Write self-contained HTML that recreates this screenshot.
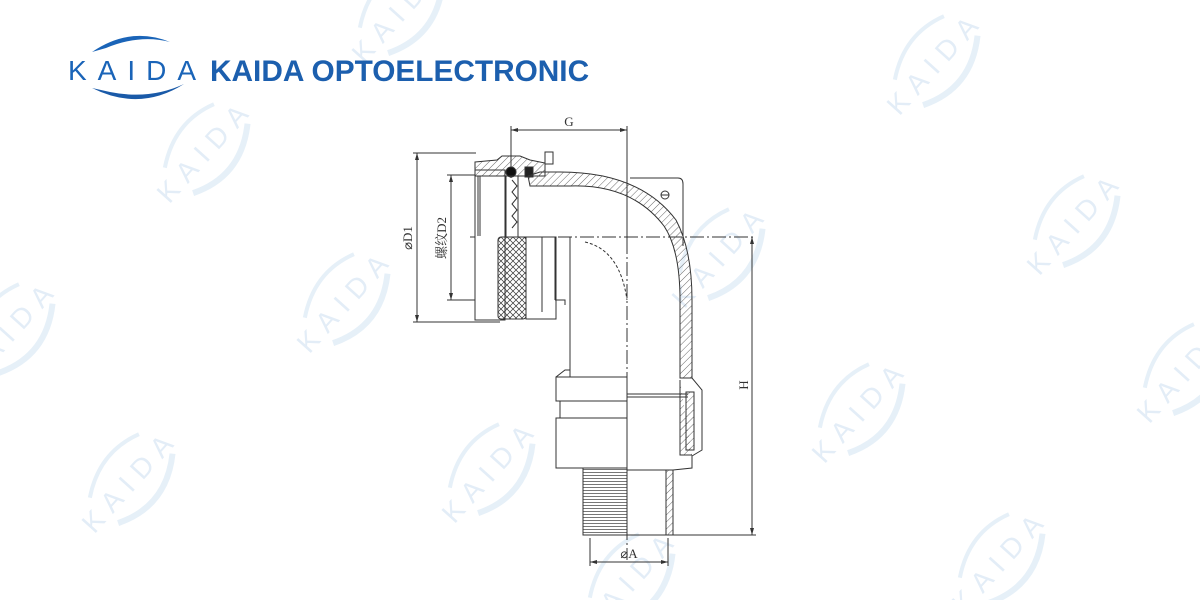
<!DOCTYPE html>
<html><head><meta charset="utf-8"><style>
html,body{margin:0;padding:0;background:#fff;width:1200px;height:600px;overflow:hidden;}
body{position:relative;font-family:"Liberation Sans",sans-serif;}
svg{position:absolute;left:0;top:0;display:block}
</style></head><body>
<svg width="1200" height="600" viewBox="0 0 1200 600" xmlns="http://www.w3.org/2000/svg" overflow="hidden">
<defs>
<pattern id="hatch" patternUnits="userSpaceOnUse" width="5" height="5" patternTransform="rotate(45)">
<line x1="0" y1="0" x2="0" y2="5" stroke="#444" stroke-width="0.8"/></pattern>
<pattern id="knurl" patternUnits="userSpaceOnUse" width="6" height="6">
<path d="M0 0L6 6M6 0L0 6" stroke="#333" stroke-width="0.7"/></pattern>
<pattern id="thread" patternUnits="userSpaceOnUse" width="4" height="3">
<line x1="0" y1="1.5" x2="4" y2="1.5" stroke="#777" stroke-width="1"/></pattern>
<g id="wm" transform="rotate(-48)">
<path d="M-40 -18 Q0 -42 40 -24" fill="none" stroke="#e6f0f8" stroke-width="4"/>
<path d="M-40 20 Q5 45 48 14" fill="none" stroke="#e6f0f8" stroke-width="6"/>
<text x="0" y="10" text-anchor="middle" font-size="28" fill="#e3edf7" letter-spacing="9" font-family="Liberation Sans,sans-serif">KAIDA</text>
</g>
</defs>
<use href="#wm" x="935" y="62"/>
<use href="#wm" x="1075" y="222"/>
<use href="#wm" x="205" y="150"/>
<use href="#wm" x="345" y="300"/>
<use href="#wm" x="720" y="255"/>
<use href="#wm" x="860" y="410"/>
<use href="#wm" x="490" y="470"/>
<use href="#wm" x="130" y="480"/>
<use href="#wm" x="1185" y="370"/>
<use href="#wm" x="1000" y="560"/>
<use href="#wm" x="630" y="580"/>
<use href="#wm" x="10" y="330"/>
<use href="#wm" x="400" y="10"/>

<path d="M92 52 Q130 26 170 42 Q140 34 106 48 Z" fill="#1a64b8"/>
<path d="M92 88 Q140 112 184 84 Q150 100 110 92 Z" fill="#1a5aa8"/>
<text x="68" y="80" font-size="28" fill="#1a64b8" letter-spacing="11" font-family="Liberation Sans,sans-serif">KAIDA</text>
<text x="210" y="81" font-size="29.8" font-weight="bold" fill="#1c5fae" font-family="Liberation Sans,sans-serif">KAIDA OPTOELECTRONIC</text>

<g stroke="#333" stroke-width="1" fill="none">
<line x1="511" y1="130" x2="627" y2="130"/>
<line x1="511" y1="126" x2="511" y2="178"/>
<line x1="627" y1="126" x2="627" y2="240"/>
<line x1="417" y1="153" x2="417" y2="322"/>
<line x1="413" y1="153" x2="476" y2="153"/>
<line x1="413" y1="322" x2="500" y2="322"/>
<line x1="451" y1="175" x2="451" y2="300"/>
<line x1="447" y1="175" x2="476" y2="175"/>
<line x1="447" y1="300" x2="476" y2="300"/>
<line x1="470" y1="237" x2="756" y2="237" stroke-dasharray="14 3 2 3"/>
<line x1="627" y1="240" x2="627" y2="560" stroke-dasharray="14 3 2 3"/>
<line x1="752" y1="237" x2="752" y2="535"/>
<line x1="673" y1="535" x2="756" y2="535"/>
<line x1="590" y1="562" x2="668" y2="562"/>
<line x1="590" y1="538" x2="590" y2="566"/>
<line x1="668" y1="538" x2="668" y2="566"/>
<rect x="475" y="170" width="30" height="150" fill="#fff"/>
<line x1="478" y1="176" x2="478" y2="236"/>
<line x1="480" y1="176" x2="480" y2="236"/>
<path d="M475 162 L497 160 L502 156 L520 156 L530 160 L545 163 L545 176 L475 176 Z" fill="url(#hatch)"/>
<rect x="545" y="152" width="8" height="12" fill="#fff"/>
<circle cx="511" cy="172" r="5" fill="#111"/>
<rect x="525" y="167" width="8" height="10" fill="#222"/>
<rect x="506" y="176" width="12" height="61"/>
<path d="M512 180 l5 6 -5 6 5 6 -5 6 5 6 -5 6 5 6 -5 6"/>
<rect x="498" y="237" width="28" height="82" rx="3" fill="url(#knurl)"/>
<rect x="526" y="237" width="30" height="82" fill="#fff"/>
<line x1="542" y1="237" x2="542" y2="312"/>
<line x1="555" y1="237" x2="555" y2="300"/>
<path d="M555 300 L565 300 L565 305"/>
<path d="M528 176 L540 172 L560 172 Q640 172 676 220 Q692 250 692 300 L692 378 L680 378 L680 300 Q680 250 664 226 Q632 184 570 186 L530 186 Z" fill="url(#hatch)"/>
<path d="M630 178 L678 178 Q683 178 683 184 L683 246"/>
<circle cx="665" cy="195" r="4"/>
<line x1="661" y1="195" x2="669" y2="195"/>
<path d="M570 237 L570 377"/>
<path d="M585 242 Q620 250 627 300" stroke-dasharray="3 2"/>
<rect x="556" y="377" width="71" height="24"/>
<path d="M556 377 L565 370 L570 370"/>
<rect x="560" y="401" width="67" height="17"/>
<rect x="556" y="418" width="71" height="50"/>
<path d="M680 378 L692 378 L702 390 L702 450 L692 456 L692 468 L673 470 L627 470"/>
<path d="M680 380 L680 455 L692 455" fill="url(#hatch)"/>
<rect x="686" y="392" width="8" height="58" fill="url(#hatch)"/>
<line x1="627" y1="394" x2="688" y2="394"/>
<line x1="627" y1="397" x2="688" y2="397"/>
<rect x="583" y="468" width="44" height="67" fill="url(#thread)"/>
<rect x="583" y="468" width="44" height="67"/>
<rect x="627" y="470" width="46" height="65"/>
<rect x="666" y="470" width="7" height="65" fill="url(#hatch)"/>
</g>
<g fill="#333">
<path d="M511 130 l7 -2 v4 z M627 130 l-7 -2 v4 z"/>
<path d="M417 153 l-2 7 h4 z M417 322 l-2 -7 h4 z"/>
<path d="M451 175 l-2 7 h4 z M451 300 l-2 -7 h4 z"/>
<path d="M752 237 l-2 7 h4 z M752 535 l-2 -7 h4 z"/>
<path d="M590 562 l7 -2 v4 z M668 562 l-7 -2 v4 z"/>
</g>
<g font-family="Liberation Serif,'Noto Serif CJK SC',serif" font-size="13" fill="#333">
<text x="569" y="126" text-anchor="middle">G</text>
<text transform="translate(412,238) rotate(-90)" text-anchor="middle">⌀D1</text>
<text transform="translate(446,238) rotate(-90)" text-anchor="middle">螺纹D2</text>
<text transform="translate(748,385) rotate(-90)" text-anchor="middle">H</text>
<text x="629" y="558" text-anchor="middle">⌀A</text>
</g>
</svg>
</body></html>
